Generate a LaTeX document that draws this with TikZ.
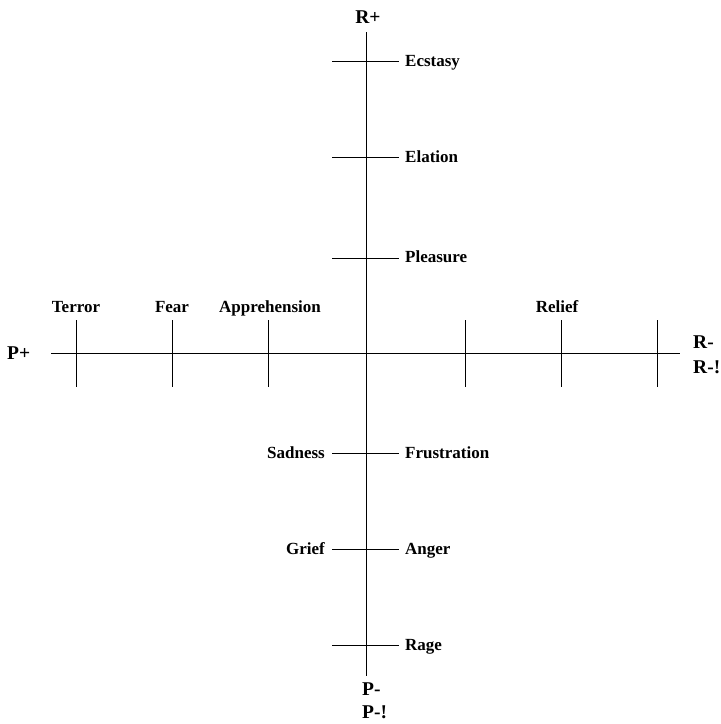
\documentclass[tikz,border=0pt]{standalone}
\usepackage{fontspec}
\setmainfont{Liberation Serif}
\begin{document}
\begin{tikzpicture}[x=1pt,y=-1pt,
  ax/.style={line width=0.9pt, draw=black},
  lbl/.style={font=\fontsize{17}{19}\selectfont\bfseries, inner sep=0pt, text=black},
  axl/.style={font=\fontsize{19.5}{22}\selectfont\bfseries, inner sep=0pt, text=black}]
\useasboundingbox (0,0) rectangle (721,724);
% axes
\coordinate (vtop) at (366,32);
\coordinate (vbot) at (366,676);
\coordinate (hl) at (51,353);
\coordinate (hr) at (680,353);
\draw[ax] (vtop) -- (vbot);
\draw[ax] (hl) -- (hr);
% vertical ticks
\foreach \n/\y in {t1/61,t2/157,t3/258,b1/453,b2/549,b3/645}{
  \coordinate (\n a) at (332,\y);
  \coordinate (\n b) at (399,\y);
  \draw[ax] (\n a) -- (\n b);
}
% horizontal ticks
\foreach \n/\x in {l1/76,l2/172,l3/268,r1/465,r2/561,r3/657}{
  \coordinate (\n a) at (\x,320);
  \coordinate (\n b) at (\x,387);
  \draw[ax] (\n a) -- (\n b);
}
% axis labels
\node[axl,anchor=base] (rplus) at (368,23) {R+};
\node[axl,anchor=base west] (pplus) at (7,359) {P+};
\node[axl,anchor=base west] (rminus) at (693,348) {R-};
\node[axl,anchor=base west] (rminusx) at (693,373) {R-!};
\node[axl,anchor=base west] (pminus) at (362,695) {P-};
\node[axl,anchor=base west] (pminusx) at (362,718) {P-!};
% tick labels
\node[lbl,anchor=base west] (ecstasy) at (405,66) {Ecstasy};
\node[lbl,anchor=base west] (elation) at (405,162) {Elation};
\node[lbl,anchor=base west] (pleasure) at (405,262) {Pleasure};
\node[lbl,anchor=base] (terror) at (76,312) {Terror};
\node[lbl,anchor=base] (fear) at (172,312) {Fear};
\node[lbl,anchor=base] (appr) at (270,312) {Apprehension};
\node[lbl,anchor=base] (relief) at (557,312) {Relief};
\node[lbl,anchor=base east] (sadness) at (325,458) {Sadness};
\node[lbl,anchor=base west] (frustration) at (405,458) {Frustration};
\node[lbl,anchor=base east] (grief) at (325,554) {Grief};
\node[lbl,anchor=base west] (anger) at (405,554) {Anger};
\node[lbl,anchor=base west] (rage) at (405,650) {Rage};
\end{tikzpicture}
\end{document}
